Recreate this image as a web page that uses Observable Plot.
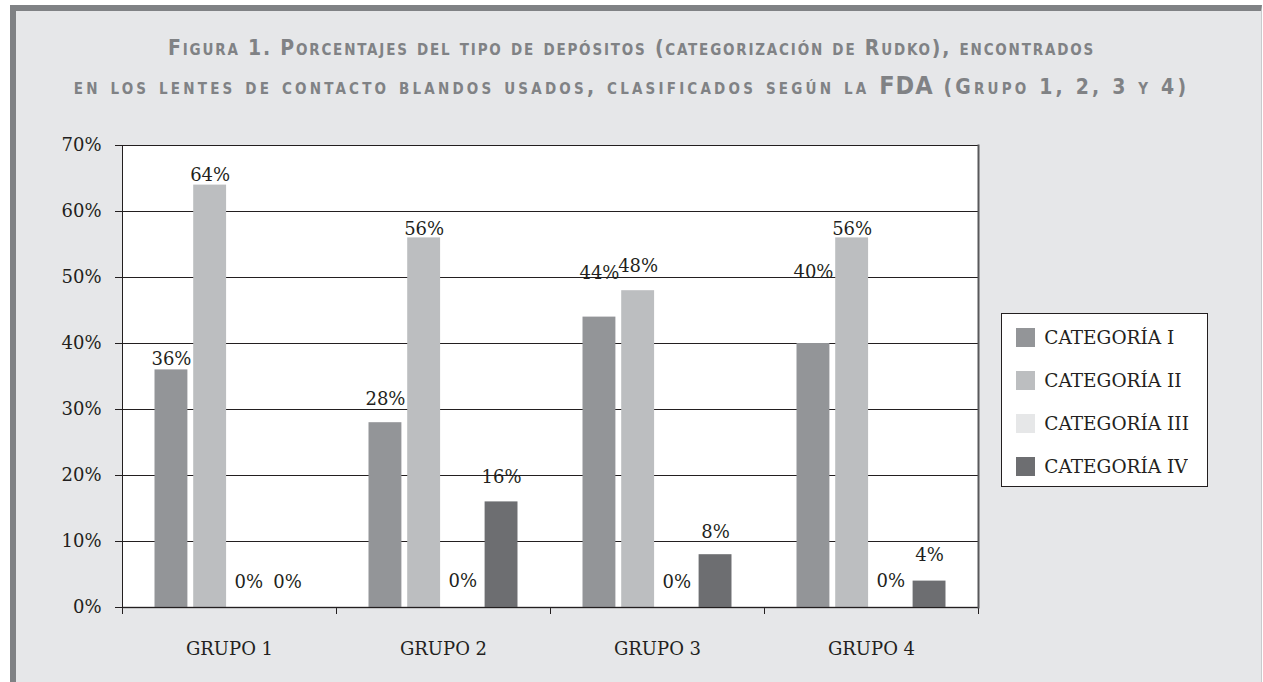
<!DOCTYPE html>
<html>
<head>
<meta charset="utf-8">
<script src="https://cdn.jsdelivr.net/npm/d3@7"></script>
<script src="https://cdn.jsdelivr.net/npm/@observablehq/plot@0.6"></script>
<style>
  html, body { margin: 0; padding: 0; background: #ffffff; }
  body { width: 1263px; height: 682px; position: relative; overflow: hidden; }
  #panel { position: absolute; left: 10px; top: 5px; width: 1245px; height: 677px;
           background: #e6e7e9; border-top: 6px solid #808285; border-left: 6px solid #808285;
           border-right: 1px solid #c9cacc; }
  #title { position: absolute; left: 0; top: 30px; width: 1263px; text-align: center;
           font-family: "DejaVu Sans Condensed", "DejaVu Sans", sans-serif; font-weight: bold;
           font-variant: small-caps; color: #808285; font-size: 21px; line-height: 37px; }
  #title .l1 { letter-spacing: 1.8px; }
  #title .l2 { letter-spacing: 3.2px; }
  #title .big { font-size: 25px; letter-spacing: 1px; }
  #chart { position: absolute; left: 0; top: 120px; }
  #legend { position: absolute; left: 1001px; top: 313px; width: 207px; height: 174px;
            background: #fff; border: 1px solid #231f20; box-sizing: border-box;
            padding: 13px 0 0 14px; }
  #legend .lg-swatch { margin-bottom: 21px !important; font-family: "DejaVu Serif", serif;
            font-size: 18.5px; color: #231f20; }
</style>
</head>
<body>
<div id="panel"></div>
<div id="title">
  <div class="l1">Figura 1. Porcentajes del tipo de depósitos (categorización de Rudko), encontrados</div>
  <div class="l2">en los lentes de contacto blandos usados, clasificados según la <span class="big">FDA</span> (Grupo 1, 2, 3 y 4)</div>
</div>
<div id="chart"></div>
<div id="legend"></div>
<script>
// ---- data ----
const groups = ["GRUPO 1", "GRUPO 2", "GRUPO 3", "GRUPO 4"];
const categories = ["CATEGORÍA I", "CATEGORÍA II", "CATEGORÍA III", "CATEGORÍA IV"];
const categoriaI   = [36, 28, 44, 40];
const categoriaII  = [64, 56, 48, 56];
const categoriaIII = [0, 0, 0, 0];
const categoriaIV  = [0, 16, 8, 4];
const yTicks = [0, 10, 20, 30, 40, 50, 60, 70];

// ---- styles ----
const colors = ["#939598", "#bcbec0", "#e6e7e8", "#6d6e71"];
const ink = "#231f20";
// label lift above bar top (px), per group, per category — as placed in the original figure
const labelLift = [
  [11, 10, 25, 25],
  [23, 9, 26, 25],
  [44, 24, 25, 22],
  [71, 9, 26, 26]
];

const series = [categoriaI, categoriaII, categoriaIII, categoriaIV];
const rows = [];
groups.forEach((g, gi) => categories.forEach((c, ci) =>
  rows.push({group: g, cat: c, value: series[ci][gi], gi, ci})));

const plotH = 562 - 25 - 75;

const labelMarks = rows.map(r => Plot.text([r], {
  fx: "group", x: "cat", y: "value", text: d => d.value + "%",
  dy: -labelLift[r.gi][r.ci], fontSize: 18, fill: ink
}));

const chart = Plot.plot({
  width: 1263,
  height: 562,
  marginLeft: 122,
  marginRight: 285,
  marginTop: 25,
  marginBottom: 75,
  style: {background: "transparent", fontFamily: "DejaVu Serif, serif", fontSize: "18px", color: ink},
  fx: {domain: groups, padding: 0, label: null, axis: "bottom", tickSize: 0, tickPadding: 35},
  x: {domain: categories, paddingInner: 0.15, paddingOuter: 0.84, round: false, axis: null},
  y: {domain: [0, 70], ticks: yTicks, tickFormat: d => d + "%", label: null, tickSize: 7, tickPadding: 14},
  color: {domain: categories, range: colors},
  marks: [
    Plot.frame({facet: "super", fill: "white", stroke: null}),
    Plot.gridY(yTicks, {stroke: ink, strokeOpacity: 1, strokeWidth: 1}),
    Plot.barY(rows, {fx: "group", x: "cat", y: "value", fill: "cat"}),
    Plot.frame({anchor: "left", stroke: ink, insetTop: plotH, insetBottom: -6}),
    Plot.frame({anchor: "right", stroke: ink, insetTop: plotH, insetBottom: -6}),
    Plot.ruleY([0], {stroke: "#58595b", strokeWidth: 1.5}),
    Plot.frame({facet: "super", stroke: ink}),
    Plot.frame({facet: "super", anchor: "right", stroke: "#58595b", strokeWidth: 2}),
    ...labelMarks
  ]
});
document.getElementById("chart").appendChild(chart);

const legend = Plot.legend({
  color: {domain: categories, range: colors},
  legend: "swatches", columns: 1, swatchSize: 19, className: "lg"
});
document.getElementById("legend").appendChild(legend);
</script>
</body>
</html>
